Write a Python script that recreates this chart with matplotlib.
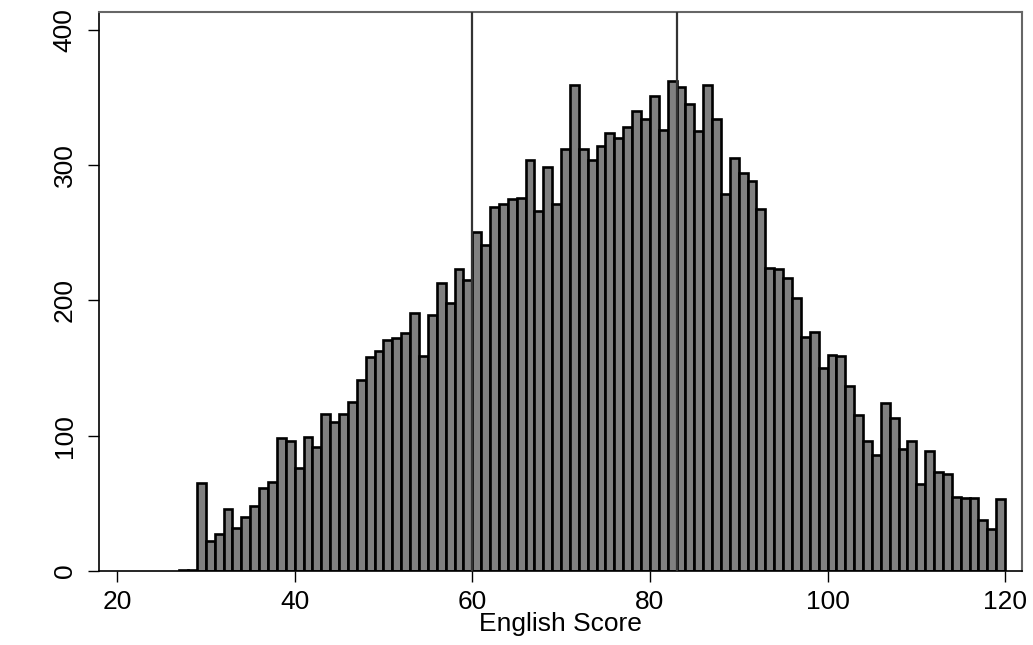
import matplotlib
matplotlib.use("Agg")
import matplotlib.pyplot as plt
import numpy as np

plt.rcParams['font.family'] = ['Liberation Sans', 'DejaVu Sans']

scores = list(range(27, 120))
counts = [1, 1,
          65, 22, 27, 46, 32, 40, 48, 61, 66, 98, 96, 76, 99, 92, 116, 110, 116, 125, 141, 158, 163,
          171, 172, 176, 191, 159, 189, 213, 198, 223, 215,
          251, 241, 269, 271, 275, 276, 304, 266, 299, 271, 312, 359, 312, 304, 314, 324, 320, 328, 340, 334,
          351, 326, 362,
          358, 345, 325, 359, 334, 279, 305, 294, 288, 268, 224, 223, 217, 202, 173, 177, 150,
          160, 159, 137, 115, 96, 86, 124, 113, 90, 96, 64, 89, 73, 72, 55, 54, 54, 38, 31, 53]
ref_lines = [60, 83]
x_ticks = [20, 40, 60, 80, 100, 120]
y_ticks = [0, 100, 200, 300, 400]

fig = plt.figure(figsize=(10.33, 6.45), dpi=100)
ax = fig.add_axes([99/1033, 1 - 571/645, (1022-99)/1033, (571-12)/645])

ax.bar(scores, counts, width=1.0, align='edge', color='#808080',
       edgecolor='black', linewidth=1.9, zorder=2)
for v in ref_lines:
    ax.axvline(v, color='#333333', linewidth=1.6, zorder=3)

ax.set_xlim(17.97, 121.9)
ax.set_ylim(0, 413.3)
ax.set_xticks(x_ticks)
ax.set_yticks(y_ticks)
ax.set_yticklabels([str(t) for t in y_ticks], rotation=90, va='center')
ax.tick_params(axis='both', labelsize=19, length=8, width=1.0, color='black')
ax.tick_params(axis='x', pad=6)
ax.tick_params(axis='y', pad=8)
ax.set_xlabel('English Score', fontsize=19, labelpad=-2)

for s in ['left', 'bottom']:
    ax.spines[s].set_color('black')
    ax.spines[s].set_linewidth(1.2)
for s in ['top', 'right']:
    ax.spines[s].set_color('#666666')
    ax.spines[s].set_linewidth(1.5)

fig.savefig('out.png', dpi=100)
